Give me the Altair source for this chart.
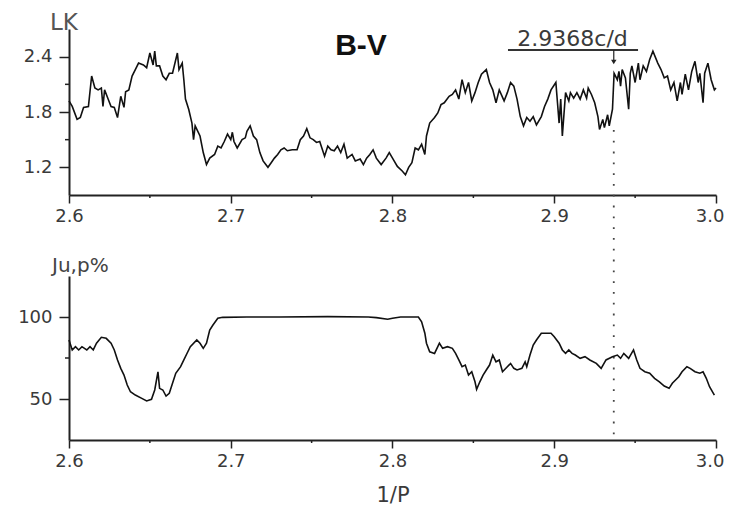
import altair as alt
import pandas as pd

# ---- data ----
top_x = [2.600,2.602,2.605,2.607,2.609,2.612,2.614,2.616,2.618,2.620,
         2.621,2.622,2.624,2.626,2.628,2.630,2.632,2.634,2.635,2.637,
         2.639,2.641,2.643,2.646,2.648,2.650,2.652,2.653,2.654,2.656,
         2.658,2.660,2.662,2.664,2.667,2.668,2.670,2.671,2.672,2.674,
         2.676,2.677,2.678,2.681,2.683,2.685,2.687,2.690,2.692,2.694,
         2.696,2.698,2.700,
         2.701,2.702,2.704,2.707,2.709,2.710,2.712,2.714,2.716,2.718,
         2.720,2.723,2.725,2.727,2.729,2.731,2.733,2.735,2.738,2.741,
         2.743,2.745,2.747,2.749,2.751,2.753,2.755,2.758,2.760,2.762,
         2.764,2.766,2.768,2.770,2.772,2.775,2.777,2.780,2.782,2.784,
         2.786,2.788,2.790,2.793,2.796,2.798,2.800,
         2.803,2.806,2.808,2.810,2.812,2.814,2.816,2.818,2.820,2.821,
         2.823,2.826,2.828,2.830,2.832,2.835,2.837,2.839,2.841,2.843,
         2.845,2.847,2.849,2.851,2.853,2.855,2.858,2.860,2.862,2.864,
         2.866,2.869,2.871,2.873,2.875,2.877,2.879,2.881,2.883,2.885,
         2.887,2.889,2.892,2.894,2.896,2.898,
         2.901,2.902,2.903,2.904,2.905,2.907,2.909,2.910,2.912,2.914,
         2.916,2.918,2.920,2.921,2.923,2.925,2.927,2.928,2.930,2.931,
         2.933,2.934,2.936,2.937,2.939,2.940,2.941,2.942,2.944,2.946,
         2.947,2.948,2.950,2.952,2.953,2.955,2.957,2.959,2.961,2.964,
         2.966,2.968,2.970,2.972,2.974,2.976,2.978,2.979,2.981,2.983,
         2.985,2.987,2.989,2.990,2.992,2.993,2.995,2.997,2.999,3.000]
top_lk = [1.92,1.86,1.72,1.74,1.85,1.86,2.19,2.06,2.04,2.06,
          1.86,2.04,1.95,1.86,1.85,1.74,1.97,1.85,2.02,2.04,
          2.19,2.26,2.33,2.31,2.28,2.44,2.31,2.46,2.30,2.30,
          2.19,2.15,2.22,2.22,2.44,2.26,2.33,2.15,1.94,1.83,
          1.68,1.50,1.65,1.54,1.36,1.23,1.30,1.34,1.43,1.41,
          1.48,1.56,1.50,
          1.58,1.48,1.41,1.50,1.52,1.59,1.65,1.54,1.50,1.36,
          1.27,1.20,1.25,1.30,1.34,1.39,1.41,1.38,1.39,1.39,
          1.50,1.54,1.62,1.52,1.50,1.47,1.48,1.32,1.43,1.39,
          1.38,1.43,1.36,1.45,1.30,1.34,1.27,1.29,1.23,1.30,
          1.34,1.39,1.30,1.23,1.30,1.36,1.30,
          1.21,1.16,1.12,1.20,1.25,1.41,1.39,1.45,1.34,1.54,
          1.68,1.74,1.79,1.88,1.90,1.97,1.99,2.04,1.94,2.15,
          2.01,2.12,1.92,2.01,2.12,2.21,2.26,2.12,2.04,1.90,
          2.04,1.92,2.01,2.12,2.08,1.94,1.75,1.65,1.74,1.70,
          1.75,1.66,1.75,1.86,1.94,2.04,
          2.12,1.90,1.68,1.94,1.54,2.01,1.92,2.01,1.95,2.01,
          1.94,2.04,1.95,2.06,1.99,1.90,1.75,1.61,1.72,1.63,
          1.77,1.65,1.83,2.22,2.15,2.24,2.08,2.26,2.17,1.83,
          2.22,2.30,2.12,2.33,2.15,2.30,2.24,2.37,2.46,2.33,
          2.26,2.17,2.19,2.04,2.12,1.92,2.12,1.99,2.21,2.04,
          2.24,2.35,2.12,2.22,1.90,2.22,2.33,2.15,2.04,2.06]

bot_x = [2.600,2.602,2.604,2.606,2.608,2.611,2.613,2.615,2.617,2.620,
         2.623,2.626,2.628,2.630,2.632,2.634,2.636,2.638,2.641,2.645,
         2.648,2.651,2.653,2.655,2.656,2.658,2.660,2.662,2.664,2.666,
         2.669,2.671,2.673,2.675,2.679,2.681,2.683,2.685,2.687,2.689,
         2.692,2.695,
         2.710,2.730,2.760,2.785,2.790,2.797,2.800,2.805,2.816,
         2.818,2.820,2.821,2.823,2.826,2.828,2.829,2.831,2.834,2.837,
         2.839,2.841,2.843,2.845,2.847,2.849,2.851,2.852,2.854,2.856,
         2.858,2.860,2.862,2.864,2.866,2.868,2.871,2.873,2.875,2.877,
         2.880,2.882,2.883,2.885,2.887,2.889,2.892,2.895,2.898,2.900,
         2.903,2.905,2.907,2.909,2.911,2.913,2.916,2.919,2.922,2.926,
         2.929,2.932,2.936,2.939,2.941,2.943,2.946,2.949,2.951,2.953,
         2.956,2.959,2.962,2.965,2.968,2.971,2.973,2.975,2.977,2.979,
         2.982,2.984,2.987,2.990,2.992,2.994,2.996,2.999]
bot_ju = [86.0,79.9,81.9,79.9,81.9,79.9,81.9,79.9,84.0,87.6,
          87.0,84.0,79.9,73.8,68.7,64.6,58.5,54.4,52.4,50.4,
          48.8,49.8,55.5,66.6,56.5,55.5,51.8,53.5,59.6,65.7,
          69.7,73.8,77.9,81.9,86.0,84.0,80.9,84.0,92.1,95.1,
          99.2,99.8,
          100.0,100.0,100.2,100.0,99.6,98.6,99.2,100.0,100.0,
          97.1,90.1,84.0,78.8,77.8,81.9,84.0,80.9,81.9,80.9,
          77.8,73.8,69.7,70.7,64.6,66.6,60.5,55.9,60.5,64.6,
          67.7,70.7,76.8,72.7,73.8,66.6,69.7,71.7,68.7,67.7,
          68.7,72.7,69.7,76.8,82.9,86.0,90.1,90.1,90.1,88.0,
          84.0,79.9,77.8,79.9,77.8,76.8,74.8,75.8,73.8,71.7,
          68.7,73.8,75.8,76.8,74.8,77.8,74.8,79.9,73.8,68.7,
          66.6,65.7,62.6,60.5,57.9,56.5,59.6,61.6,63.6,66.6,
          69.7,68.7,66.6,65.7,66.6,62.6,57.5,52.4]

x_ticks = [2.6, 2.7, 2.8, 2.9, 3.0]
x_minor = [2.65, 2.75, 2.85, 2.95]
top_ticks = [1.2, 1.8, 2.4]
top_minor = [1.5, 2.1]
bot_ticks = [50, 100]
bot_minor = [75]
peak_freq = 2.9368
peak_label = "2.9368c/d"
underline_x = [2.8714, 2.9518]
label_center_x = 2.9113
title_x = 2.7805

W = 647
H1 = 166
H2 = 164
GAP = 81
NUM_FONT = "DejaVu Sans"
TXT = "#3a3a3a"

xscale = alt.Scale(domain=[2.6, 3.0], nice=False, zero=False)

# last x label kept inside the page: right-aligned, nudged right
last_align = {"condition": {"test": "datum.value >= 2.99", "value": "right"},
              "value": "center"}
last_offset = {"condition": {"test": "datum.value >= 2.99", "value": 8},
               "value": 0}


def xaxis(title=None):
    kw = dict(values=x_ticks, format=".1f", tickSize=8, labelPadding=4,
              labelFlush=False, grid=False, labelAlign=last_align,
              labelOffset=last_offset)
    if title:
        return alt.Axis(title=title, titleFont=NUM_FONT, titleFontSize=21,
                        titleFontWeight="normal", titleColor=TXT,
                        titlePadding=14, **kw)
    return alt.Axis(title=None, **kw)


# ---------------- top panel ----------------
df_top = pd.DataFrame({"x": top_x, "y": top_lk})
yscale_top = alt.Scale(domain=[0.9, 2.7], nice=False, zero=False)

top_line = alt.Chart(df_top).mark_line(color="#111", strokeWidth=1.6).encode(
    x=alt.X("x:Q", scale=xscale, axis=xaxis()),
    y=alt.Y("y:Q", scale=yscale_top,
            axis=alt.Axis(values=top_ticks, format=".1f", tickSize=10,
                          labelPadding=7, title=None, grid=False)),
)
top_xminor = alt.Chart(pd.DataFrame({"x": x_minor})).mark_rule(
    color="#222", strokeWidth=1.5).encode(
    x="x:Q", y=alt.value(H1), y2=alt.value(H1 + 3))
top_yminor = alt.Chart(pd.DataFrame({"y": top_minor})).mark_rule(
    color="#222", strokeWidth=1.5).encode(
    y="y:Q", x=alt.value(-4), x2=alt.value(0))

one = pd.DataFrame({"x": [peak_freq]})
dotted = alt.Chart(one).mark_rule(
    color="#444", strokeWidth=1.8, strokeDash=[1.8, 9]).encode(
    x="x:Q", y=alt.value(101), y2=alt.value(H1 + GAP + 160))
arrow = alt.Chart(one).mark_rule(color="#222", strokeWidth=1.2).encode(
    x="x:Q", y=alt.value(21), y2=alt.value(33))
arrow_head = alt.Chart(one).mark_point(
    shape="triangle-down", filled=True, color="#222", size=30, opacity=1).encode(
    x="x:Q", y=alt.value(33))
underline = alt.Chart(pd.DataFrame({"x": [underline_x[0]], "x2": [underline_x[1]]})).mark_rule(
    color="#333", strokeWidth=2).encode(
    x="x:Q", x2="x2:Q", y=alt.value(21))
ann_text = alt.Chart(pd.DataFrame({"x": [label_center_x], "t": [peak_label]})).mark_text(
    font=NUM_FONT, fontSize=22, color=TXT, align="center", baseline="alphabetic").encode(
    x="x:Q", y=alt.value(17), text="t:N")
bv_text = alt.Chart(pd.DataFrame({"x": [title_x], "t": ["B-V"]})).mark_text(
    font="Liberation Sans", fontSize=30, fontWeight="bold", color="#111",
    align="center", baseline="alphabetic").encode(
    x="x:Q", y=alt.value(26), text="t:N")
lk_text = alt.Chart(pd.DataFrame({"t": ["LK"]})).mark_text(
    font=NUM_FONT, fontSize=23, color="#555", align="left",
    baseline="alphabetic").encode(
    x=alt.value(-19), y=alt.value(1), text="t:N")

top = alt.layer(top_line, top_xminor, top_yminor, dotted, underline, arrow,
                arrow_head, ann_text, bv_text, lk_text).properties(width=W, height=H1)

# ---------------- bottom panel ----------------
df_bot = pd.DataFrame({"x": bot_x, "y": bot_ju})
yscale_bot = alt.Scale(domain=[25, 125], nice=False, zero=False)

bot_line = alt.Chart(df_bot).mark_line(color="#111", strokeWidth=1.6).encode(
    x=alt.X("x:Q", scale=xscale, axis=xaxis("1/P")),
    y=alt.Y("y:Q", scale=yscale_bot,
            axis=alt.Axis(values=bot_ticks, format="d", tickSize=10,
                          labelPadding=7, title=None, grid=False)),
)
bot_xminor = alt.Chart(pd.DataFrame({"x": x_minor})).mark_rule(
    color="#222", strokeWidth=1.5).encode(
    x="x:Q", y=alt.value(H2), y2=alt.value(H2 + 3))
bot_yminor = alt.Chart(pd.DataFrame({"y": bot_minor})).mark_rule(
    color="#222", strokeWidth=1.5).encode(
    y="y:Q", x=alt.value(-4), x2=alt.value(0))
ju_text = alt.Chart(pd.DataFrame({"t": ["Ju,p%"]})).mark_text(
    font=NUM_FONT, fontSize=20, color="#444", align="left",
    baseline="alphabetic").encode(
    x=alt.value(-17), y=alt.value(-4), text="t:N")

bottom = alt.layer(bot_line, bot_xminor, bot_yminor, ju_text).properties(
    width=W, height=H2)

chart = alt.vconcat(top, bottom, spacing=GAP, bounds="flush").properties(
    padding={"left": 9, "top": 4, "right": 0, "bottom": 0},
    background="white",
).configure_view(strokeWidth=0).configure_axis(
    domainColor="#222", domainWidth=2, tickColor="#222", tickWidth=1.5,
    labelFont=NUM_FONT, labelFontSize=18, labelColor=TXT,
)

chart.save("out.html", embed_options={"renderer": "svg", "actions": False})
